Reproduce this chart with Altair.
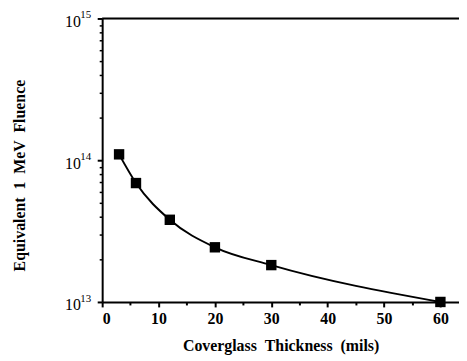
import altair as alt
import pandas as pd

thickness = [3, 6, 12, 20, 30, 60]
fluence = [1.1e14, 6.9e13, 3.8e13, 2.43e13, 1.82e13, 1.0e13]

x_major = [0, 10, 20, 30, 40, 50, 60]
x_minor = [5, 15, 25, 35, 45, 55]
y_major = [1e13, 1e14, 1e15]
y_exponents = ["13", "14", "15"]
y_minor = [m * 10 ** e for e in (13, 14) for m in range(2, 10)]

df = pd.DataFrame({"t": thickness, "f": fluence})
FONT = "Liberation Serif"
SP = " \u00a0"

xscale = alt.Scale(domain=[0, 63.3], nice=False, zero=False)
yscale = alt.Scale(type="log", domain=[1e13, 1e15], nice=False)

base = alt.Chart(df)

line = base.mark_line(color="black", strokeWidth=2, interpolate="monotone").encode(
    x=alt.X("t:Q", scale=xscale,
            axis=alt.Axis(values=x_major,
                          title=SP.join(["Coverglass", "Thickness", "(mils)"]),
                          orient="bottom", grid=False, tickSize=5, tickWidth=2,
                          tickColor="black", domainColor="black", domainWidth=2,
                          labelFont=FONT, labelFontSize=16, labelFontWeight="bold",
                          labelColor="black", labelPadding=4,
                          titleFont=FONT, titleFontSize=16, titleFontWeight="bold",
                          titleColor="black", titlePadding=11)),
    y=alt.Y("f:Q", scale=yscale,
            axis=alt.Axis(values=y_major,
                          title=SP.join(["Equivalent", "1", "MeV", "Fluence"]),
                          orient="left", grid=False, tickSize=5, tickWidth=2,
                          tickColor="black", domainColor="black", domainWidth=2,
                          labelExpr="'10'", labelBaseline="middle", labelOffset=3,
                          labelFont=FONT, labelFontSize=16,
                          labelColor="black", labelPadding=17,
                          titleFont=FONT, titleFontSize=16, titleFontWeight="bold",
                          titleColor="black", titlePadding=37, titleY=158)),
)

points = base.mark_square(color="black", size=110, opacity=1).encode(
    x=alt.X("t:Q", scale=xscale,
            axis=alt.Axis(values=x_minor, labels=False, title=None, orient="bottom",
                          grid=False, domain=False, tickSize=3, tickWidth=2,
                          tickColor="black")),
    y=alt.Y("f:Q", scale=yscale,
            axis=alt.Axis(values=y_minor, labels=False, title=None, orient="left",
                          grid=False, domain=False, tickSize=3, tickWidth=1.5,
                          tickColor="black")),
)

exps = alt.Chart(pd.DataFrame({"v": y_major, "e": y_exponents})).mark_text(
    font=FONT, fontSize=11, align="left", baseline="alphabetic", color="black",
    clip=False,
).encode(
    y=alt.Y("v:Q", scale=yscale, axis=None),
    x=alt.value(-22),
    text="e:N",
)

top = alt.Chart(pd.DataFrame({"v": [1e15]})).mark_rule(color="black", strokeWidth=2).encode(
    y=alt.Y("v:Q", scale=yscale, axis=None),
    x=alt.value(0), x2=alt.value(360),
)

chart = (
    alt.layer(top, line, points, exps)
    .resolve_axis(x="independent", y="independent")
    .properties(
        width=360, height=286,
        autosize=alt.AutoSizeParams(type="none"),
        padding={"left": 95, "top": 9, "right": 0, "bottom": 58},
    )
    .configure_view(stroke=None)
    .configure(background="white")
)

chart.save("out.html", embed_options={"renderer": "svg", "actions": False})
